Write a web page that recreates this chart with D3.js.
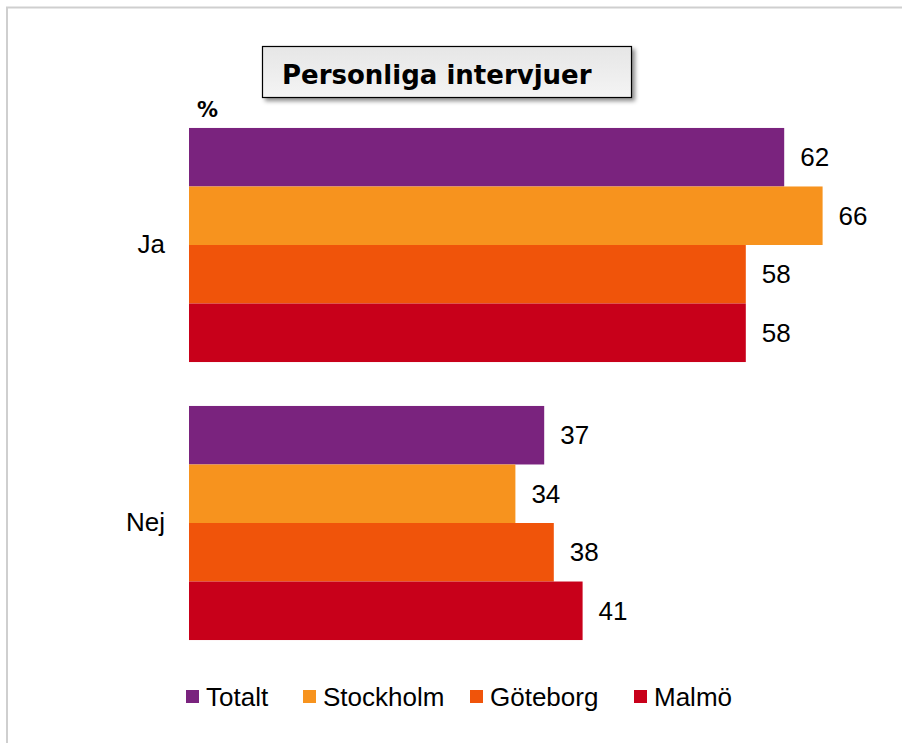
<!DOCTYPE html>
<html>
<head>
<meta charset="utf-8">
<script src="https://cdn.jsdelivr.net/npm/d3@7"></script>
<style>
  body { margin: 0; background: #fff; }
  svg { display: block; }
</style>
</head>
<body>
<div id="chart"></div>
<script>
// Data
const categories = ["Ja", "Nej"];
const seriesNames = ["Totalt", "Stockholm", "Göteborg", "Malmö"];
const totaltValues = [62, 37];
const stockholmValues = [66, 34];
const goteborgValues = [58, 38];
const malmoValues = [58, 41];
const seriesColors = ["#7a237e", "#f7931e", "#f0540a", "#c8001a"];

const seriesValues = [totaltValues, stockholmValues, goteborgValues, malmoValues];
const width = 902, height = 743;

let svg = d3.select("#chart").append("svg")
    .attr("width", width).attr("height", height);

//Outer frame
svg.append("rect")
    .attr("x", 7).attr("y", 7.5)
    .attr("width", 920).attr("height", 760)
    .attr("fill", "none")
    .attr("stroke", "#cfcfcf").attr("stroke-width", 2);

//Scales
let x = d3.scaleLinear().domain([0, 70]).range([189, 861]);
let y0 = d3.scaleBand().domain(categories).range([106, 662])
    .paddingInner(0.158).paddingOuter(0.079);
let y1 = d3.scaleBand().domain(seriesNames).range([0, y0.bandwidth()]);

//Bars
let rows = [];
categories.forEach((c, ci) => {
    seriesNames.forEach((s, si) => {
        rows.push({cat: c, series: s, value: seriesValues[si][ci], color: seriesColors[si]});
    });
});

let groups = svg.selectAll(".bar-row").data(rows).enter().append("g").attr("class", "bar-row");

groups.append("rect")
    .attr("x", x(0))
    .attr("y", d => y0(d.cat) + y1(d.series))
    .attr("width", d => x(d.value) - x(0))
    .attr("height", y1.bandwidth())
    .attr("fill", d => d.color);

groups.append("text")
    .attr("x", d => x(d.value) + 16)
    .attr("y", d => y0(d.cat) + y1(d.series) + y1.bandwidth() / 2)
    .attr("dy", "0.35em")
    .attr("font-family", "Liberation Sans, Arial, sans-serif")
    .attr("font-size", "26px")
    .attr("fill", "#000")
    .text(d => d.value);

//Category labels
let yAxis = d3.axisLeft(y0).tickSize(0).tickPadding(24);
let axisG = svg.append("g").attr("transform", "translate(" + x(0) + ",0)").call(yAxis);
axisG.select(".domain").remove();
axisG.selectAll("text")
    .attr("font-family", "Liberation Sans, Arial, sans-serif")
    .attr("font-size", "26px")
    .attr("fill", "#000");

//Percent label
svg.append("text")
    .attr("x", 197).attr("y", 117)
    .attr("font-family", "DejaVu Sans, Verdana, sans-serif")
    .attr("font-weight", "bold")
    .attr("font-size", "21px")
    .text("%");

//Title box
let defs = svg.append("defs");
let shadow = defs.append("filter").attr("id", "shadow")
    .attr("x", "-10%").attr("y", "-20%").attr("width", "130%").attr("height", "160%");
shadow.append("feDropShadow")
    .attr("dx", 3).attr("dy", 3).attr("stdDeviation", 2)
    .attr("flood-color", "#000").attr("flood-opacity", 0.45);
let grad = defs.append("linearGradient").attr("id", "titleGrad")
    .attr("x1", 0).attr("y1", 0).attr("x2", 0).attr("y2", 1);
grad.append("stop").attr("offset", "0%").attr("stop-color", "#e6e6e6");
grad.append("stop").attr("offset", "100%").attr("stop-color", "#f4f4f4");

svg.append("rect")
    .attr("x", 262.5).attr("y", 46.5)
    .attr("width", 369).attr("height", 51)
    .attr("fill", "url(#titleGrad)")
    .attr("stroke", "#000").attr("stroke-width", 1.2)
    .attr("filter", "url(#shadow)");

svg.append("text")
    .attr("x", 282).attr("y", 84)
    .attr("font-family", "DejaVu Sans, Verdana, sans-serif")
    .attr("font-weight", "bold")
    .attr("font-size", "26px")
    .attr("fill", "#000")
    .text("Personliga intervjuer");

//Legend
const legendX = [186, 303, 470, 634];
let legend = svg.selectAll(".legend-item").data(seriesNames).enter().append("g")
    .attr("class", "legend-item")
    .attr("transform", (d, i) => "translate(" + legendX[i] + ",697)");

legend.append("rect")
    .attr("x", 0).attr("y", -7)
    .attr("width", 13).attr("height", 13)
    .attr("fill", (d, i) => seriesColors[i]);

legend.append("text")
    .attr("x", 20).attr("y", 0)
    .attr("dy", "0.35em")
    .attr("font-family", "Liberation Sans, Arial, sans-serif")
    .attr("font-size", "26px")
    .attr("fill", "#000")
    .text(d => d);
</script>
</body>
</html>
